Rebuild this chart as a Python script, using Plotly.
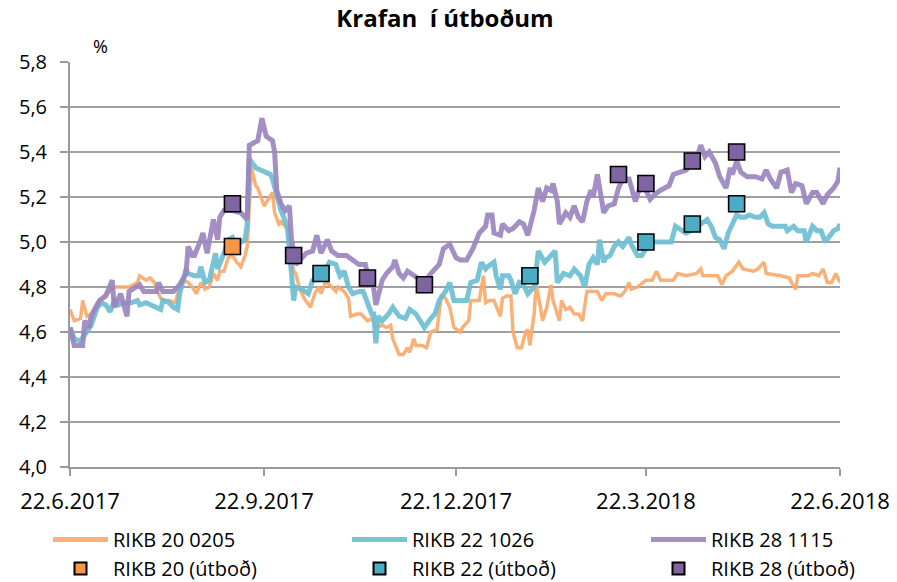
import pandas as pd
import plotly.graph_objects as go

START = pd.Timestamp("2017-06-22")

# days since 22.6.2017 and yields (%)
rikb20_days = [0, 2, 5, 6, 8, 10, 13, 17, 19, 21, 25, 28, 32, 33, 36, 38, 40, 41, 43, 45, 47, 50, 51, 54, 56, 58, 60, 62, 64, 66, 68, 70, 71, 73, 75, 77, 79, 81, 83, 84, 86, 88, 89, 92, 94, 96, 97, 99, 100, 103, 104, 106, 107, 109, 111, 114, 116, 118, 119, 121, 123, 126, 127, 130, 132, 133, 136, 138, 141, 143, 145, 148, 150, 152, 153, 156, 158, 160, 161, 163, 164, 167, 169, 171, 174, 176, 178, 180, 182, 185, 186, 189, 190, 194, 196, 197, 199, 201, 204, 205, 207, 209, 210, 212, 214, 216, 217, 218, 220, 221, 223, 224, 226, 228, 229, 232, 233, 235, 237, 239, 241, 243, 245, 250, 252, 254, 258, 261, 263, 265, 266, 269, 273, 276, 278, 280, 286, 288, 292, 297, 299, 300, 307, 309, 311, 314, 317, 319, 324, 326, 329, 330, 337, 341, 342, 344, 345, 350, 352, 355, 357, 359, 361, 363, 365]
rikb20_vals = [4.70, 4.65, 4.66, 4.74, 4.67, 4.68, 4.73, 4.77, 4.78, 4.80, 4.80, 4.80, 4.82, 4.85, 4.83, 4.84, 4.82, 4.79, 4.75, 4.74, 4.74, 4.73, 4.77, 4.83, 4.82, 4.80, 4.77, 4.82, 4.79, 4.80, 4.86, 4.83, 4.87, 4.87, 4.93, 4.94, 4.91, 4.89, 4.94, 4.98, 5.33, 5.25, 5.24, 5.16, 5.19, 5.22, 5.13, 5.08, 5.09, 5.06, 4.99, 4.87, 4.86, 4.79, 4.75, 4.71, 4.77, 4.80, 4.77, 4.82, 4.81, 4.78, 4.80, 4.78, 4.75, 4.67, 4.68, 4.68, 4.65, 4.66, 4.62, 4.63, 4.62, 4.63, 4.57, 4.50, 4.50, 4.53, 4.51, 4.57, 4.54, 4.54, 4.53, 4.60, 4.61, 4.76, 4.75, 4.71, 4.62, 4.60, 4.62, 4.65, 4.74, 4.74, 4.85, 4.73, 4.74, 4.74, 4.67, 4.75, 4.76, 4.76, 4.60, 4.53, 4.53, 4.60, 4.61, 4.54, 4.68, 4.81, 4.71, 4.65, 4.71, 4.81, 4.74, 4.65, 4.74, 4.70, 4.71, 4.68, 4.68, 4.65, 4.78, 4.78, 4.74, 4.77, 4.77, 4.76, 4.78, 4.82, 4.79, 4.80, 4.83, 4.83, 4.87, 4.83, 4.83, 4.86, 4.85, 4.86, 4.88, 4.85, 4.85, 4.81, 4.85, 4.87, 4.91, 4.88, 4.87, 4.88, 4.91, 4.86, 4.85, 4.84, 4.82, 4.79, 4.85, 4.85, 4.86, 4.85, 4.88, 4.82, 4.82, 4.86, 4.82]

rikb22_days = [0, 2, 5, 8, 10, 13, 15, 17, 19, 21, 23, 25, 29, 32, 33, 36, 38, 41, 43, 44, 47, 49, 51, 52, 55, 56, 59, 61, 62, 64, 66, 69, 70, 73, 75, 77, 79, 81, 83, 84, 85, 88, 90, 95, 96, 98, 100, 103, 104, 105, 106, 107, 110, 113, 115, 118, 120, 123, 126, 128, 130, 132, 134, 137, 139, 141, 143, 144, 145, 146, 148, 151, 153, 156, 159, 161, 164, 166, 168, 171, 173, 175, 178, 180, 182, 185, 188, 190, 193, 195, 197, 198, 201, 202, 204, 205, 208, 209, 211, 213, 215, 217, 220, 222, 224, 225, 228, 230, 231, 234, 237, 239, 242, 244, 246, 248, 250, 251, 253, 254, 256, 258, 260, 262, 265, 266, 269, 271, 273, 276, 278, 285, 287, 289, 292, 294, 296, 299, 302, 304, 306, 308, 310, 312, 314, 316, 318, 320, 322, 325, 327, 329, 331, 333, 337, 339, 340, 343, 345, 348, 349, 352, 354, 356, 358, 360, 362, 364, 365]
rikb22_vals = [4.62, 4.57, 4.56, 4.60, 4.63, 4.71, 4.73, 4.72, 4.69, 4.74, 4.72, 4.73, 4.73, 4.74, 4.72, 4.73, 4.72, 4.71, 4.70, 4.74, 4.73, 4.71, 4.70, 4.77, 4.88, 4.86, 4.85, 4.85, 4.89, 4.82, 4.83, 4.95, 4.88, 4.95, 5.01, 5.02, 4.98, 5.00, 5.01, 5.08, 5.37, 5.33, 5.32, 5.30, 5.28, 5.20, 5.14, 5.07, 4.98, 4.86, 4.74, 4.80, 4.79, 4.77, 4.83, 4.85, 4.86, 4.91, 4.90, 4.85, 4.87, 4.80, 4.77, 4.78, 4.78, 4.73, 4.68, 4.68, 4.55, 4.67, 4.65, 4.68, 4.71, 4.67, 4.66, 4.70, 4.68, 4.65, 4.62, 4.66, 4.68, 4.74, 4.78, 4.82, 4.74, 4.74, 4.74, 4.82, 4.83, 4.91, 4.88, 4.89, 4.91, 4.85, 4.79, 4.85, 4.85, 4.83, 4.77, 4.82, 4.81, 4.77, 4.80, 4.96, 4.92, 4.91, 4.94, 4.96, 4.82, 4.86, 4.85, 4.88, 4.85, 4.80, 4.90, 4.93, 4.90, 5.01, 4.91, 4.93, 4.94, 4.98, 5.00, 4.98, 5.02, 4.99, 4.94, 4.94, 4.97, 5.00, 5.00, 5.00, 5.07, 5.06, 5.04, 5.05, 5.06, 5.08, 5.10, 5.07, 5.02, 5.01, 4.97, 5.04, 5.08, 5.12, 5.11, 5.11, 5.12, 5.11, 5.11, 5.13, 5.08, 5.07, 5.07, 5.07, 5.05, 5.07, 5.05, 5.05, 5.00, 5.07, 5.05, 5.05, 5.00, 5.03, 5.05, 5.06, 5.08]

rikb28_days = [0, 2, 6, 7, 9, 10, 14, 17, 20, 21, 24, 27, 28, 33, 35, 41, 42, 44, 49, 52, 55, 56, 58, 59, 62, 63, 65, 68, 70, 71, 73, 77, 81, 83, 84, 85, 89, 91, 93, 96, 97, 98, 100, 102, 104, 105, 106, 107, 110, 112, 115, 117, 119, 122, 124, 127, 131, 134, 137, 140, 141, 143, 145, 148, 150, 153, 154, 156, 158, 160, 163, 166, 168, 171, 175, 177, 180, 183, 185, 188, 191, 194, 197, 198, 200, 201, 204, 205, 208, 210, 213, 215, 217, 220, 222, 224, 226, 228, 229, 231, 232, 235, 237, 239, 241, 243, 245, 247, 248, 250, 253, 255, 258, 260, 262, 265, 266, 268, 270, 272, 275, 277, 280, 284, 286, 290, 292, 295, 297, 299, 301, 303, 306, 308, 311, 313, 314, 316, 318, 321, 325, 328, 330, 332, 335, 337, 340, 342, 344, 347, 349, 352, 354, 357, 359, 362, 364, 365]
rikb28_vals = [4.62, 4.54, 4.54, 4.65, 4.62, 4.67, 4.74, 4.76, 4.83, 4.71, 4.77, 4.67, 4.78, 4.81, 4.78, 4.78, 4.82, 4.78, 4.78, 4.81, 4.86, 4.98, 4.94, 4.94, 5.01, 5.04, 4.95, 5.10, 5.01, 5.11, 5.14, 5.14, 5.13, 5.11, 5.10, 5.43, 5.45, 5.55, 5.47, 5.45, 5.40, 5.23, 5.17, 5.14, 5.16, 5.01, 4.95, 4.90, 4.93, 4.95, 4.96, 5.03, 4.95, 5.01, 4.96, 4.94, 4.94, 4.92, 4.90, 4.90, 4.86, 4.86, 4.72, 4.83, 4.86, 4.89, 4.92, 4.86, 4.84, 4.87, 4.85, 4.83, 4.82, 4.86, 4.90, 4.97, 4.99, 4.93, 4.92, 4.92, 4.97, 5.04, 5.07, 5.12, 5.12, 5.04, 5.03, 5.08, 5.05, 5.06, 5.09, 5.08, 5.03, 5.14, 5.24, 5.18, 5.24, 5.23, 5.26, 5.18, 5.08, 5.13, 5.11, 5.16, 5.11, 5.09, 5.18, 5.23, 5.20, 5.30, 5.13, 5.16, 5.17, 5.24, 5.28, 5.28, 5.24, 5.18, 5.24, 5.25, 5.19, 5.21, 5.23, 5.25, 5.30, 5.31, 5.32, 5.35, 5.37, 5.43, 5.38, 5.40, 5.35, 5.29, 5.24, 5.33, 5.30, 5.36, 5.31, 5.29, 5.29, 5.28, 5.32, 5.28, 5.24, 5.31, 5.32, 5.22, 5.26, 5.25, 5.17, 5.22, 5.22, 5.17, 5.21, 5.24, 5.27, 5.33]

# auction results
auc20_days = [77]
auc20_vals = [4.98]
auc22_days = [119, 218, 273, 295, 316]
auc22_vals = [4.86, 4.85, 5.00, 5.08, 5.17]
auc28_days = [77, 106, 141, 168, 260, 273, 295, 316]
auc28_vals = [5.17, 4.94, 4.84, 4.81, 5.30, 5.26, 5.36, 5.40]

tick_dates = ["2017-06-22", "2017-09-22", "2017-12-22", "2018-03-22", "2018-06-22"]
tick_text = ["22.6.2017", "22.9.2017", "22.12.2017", "22.3.2018", "22.6.2018"]
y_ticks = [4.0, 4.2, 4.4, 4.6, 4.8, 5.0, 5.2, 5.4, 5.6, 5.8]


def to_dates(days):
    return START + pd.to_timedelta(days, unit="D")


FONT = "Open Sans"
W, H = 897, 582
fig = go.Figure()

line_specs = [
    ("RIKB 20 0205", rikb20_days, rikb20_vals, "rgba(250,170,108,0.92)", 3.5, "legend"),
    ("RIKB 22 1026", rikb22_days, rikb22_vals, "rgba(110,190,212,0.92)", 5, "legend2"),
    ("RIKB 28 1115", rikb28_days, rikb28_vals, "rgba(155,133,190,0.92)", 5, "legend3"),
]
for name, d, v, col, w, lg in line_specs:
    fig.add_trace(go.Scatter(x=to_dates(d), y=v, mode="lines", name=name, legend=lg,
                             line=dict(color=col, width=w)))

marker_specs = [
    ("RIKB 20 (útboð)", auc20_days, auc20_vals, "#F79646", "legend"),
    ("RIKB 22 (útboð)", auc22_days, auc22_vals, "#4BACC6", "legend2"),
    ("RIKB 28 (útboð)", auc28_days, auc28_vals, "#8064A2", "legend3"),
]
for name, d, v, col, lg in marker_specs:
    fig.add_trace(go.Scatter(x=to_dates(d), y=v, mode="markers", name=name, legend=lg,
                             marker=dict(symbol="square", size=16, color=col,
                                         line=dict(color="#000000", width=1.6))))


def legend_at(px_left):
    return dict(orientation="v", xref="container", yref="container",
                x=px_left / W, xanchor="left", y=1 - 520 / H, yanchor="top",
                itemwidth=55, itemsizing="constant", tracegroupgap=0,
                font=dict(family=FONT, size=20, color="#000000"),
                bgcolor="rgba(0,0,0,0)", borderwidth=0)


fig.update_layout(
    width=W, height=H,
    margin=dict(l=70, r=57, t=62, b=115, autoexpand=False),
    paper_bgcolor="white", plot_bgcolor="white",
    separators=",.",
    font=dict(family=FONT, size=20, color="#000000"),
    title=dict(text="<b>Krafan  í útboðum</b>", x=445 / W, xanchor="center",
               y=1 - 19 / H, yanchor="middle", xref="container", yref="container",
               font=dict(family=FONT, size=24, color="#000000")),
    showlegend=True,
    legend=legend_at(48),
    legend2=legend_at(347),
    legend3=legend_at(646),
    xaxis=dict(type="date", range=[tick_dates[0], tick_dates[-1]],
               tickvals=tick_dates, ticktext=tick_text,
               showgrid=False, showline=True, linecolor="#9A9A9A", linewidth=2,
               ticks="outside", ticklen=7, tickwidth=2, tickcolor="#9A9A9A",
               ticklabelstandoff=7,
               tickfont=dict(family=FONT, size=22), zeroline=False),
    yaxis=dict(range=[4.0, 5.8], tickvals=y_ticks, tickformat=".1f",
               showgrid=True, gridcolor="#A0A0A0", gridwidth=1.5,
               showline=True, linecolor="#9A9A9A", linewidth=2,
               ticks="outside", ticklen=8, tickwidth=1.5, tickcolor="#9A9A9A",
               ticklabelstandoff=9,
               tickfont=dict(family=FONT, size=20), zeroline=False),
    annotations=[dict(text="%", x=30 / 770, y=1 + 16 / 405, xref="paper", yref="paper",
                      showarrow=False, xanchor="center", yanchor="middle",
                      font=dict(family=FONT, size=18))],
)

fig.write_html("out.html", config={"displayModeBar": False},
               post_script="document.body.style.margin='0';")
